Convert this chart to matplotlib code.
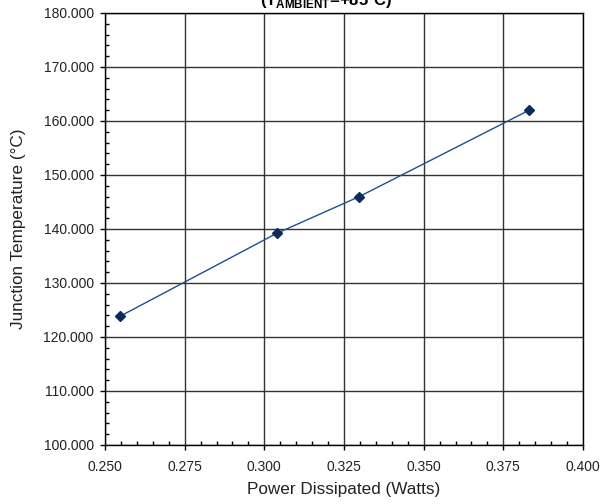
import matplotlib
matplotlib.use("Agg")
import matplotlib.pyplot as plt
from matplotlib.ticker import MultipleLocator, FormatStrFormatter

power_w = [0.2546, 0.3039, 0.3298, 0.3831]
junction_temp_c = [123.8, 139.2, 146.0, 162.0]

plt.rcParams['font.family'] = ['Liberation Sans', 'DejaVu Sans']
plt.rcParams['mathtext.fontset'] = 'custom'
plt.rcParams['mathtext.rm'] = 'Liberation Sans'
plt.rcParams['mathtext.bf'] = 'Liberation Sans:bold'

W, H = 611, 504
fig = plt.figure(figsize=(W / 100, H / 100), dpi=100)
ax = fig.add_axes([105 / W, 1 - 445 / H, (583 - 105) / W, (445 - 13) / H])

ax.plot(power_w, junction_temp_c, color='#1f4e8c', lw=1.0, marker='D',
        markersize=5, markerfacecolor='#0b2d5a', markeredgecolor='#0b2d5a', zorder=3)

ax.set_xlim(0.25, 0.40)
ax.set_ylim(100, 180)
ax.xaxis.set_major_locator(MultipleLocator(0.025))
ax.xaxis.set_minor_locator(MultipleLocator(0.005))
ax.yaxis.set_major_locator(MultipleLocator(10))
ax.yaxis.set_minor_locator(MultipleLocator(2))
ax.xaxis.set_major_formatter(FormatStrFormatter('%.3f'))
ax.yaxis.set_major_formatter(FormatStrFormatter('%.3f'))
ax.tick_params(which='major', direction='out', length=3.6, width=1, labelsize=10,
               color='black', labelcolor='#222222')
ax.tick_params(axis='x', which='major', pad=7)
ax.tick_params(axis='y', which='major', pad=4.5)
ax.tick_params(which='minor', direction='in', length=2.6, width=1, color='black')
ax.grid(True, which='major', color='#333333', lw=1)
ax.set_axisbelow(True)
for s in ax.spines.values():
    s.set_color('black')
    s.set_linewidth(1)

fig.text(344 / W, 1 - 494 / H, 'Power Dissipated (Watts)', ha='center', va='baseline',
         fontsize=12.3, color='#222222')
fig.text(19 / W, 1 - 229 / H, 'Junction Temperature (°C)', ha='center', va='center',
         rotation=90, fontsize=12.3, color='#222222')

fig.text(326 / W, 1 - 5 / H, r'(T$_{\mathbf{AMBIENT}}$=+85°C)', ha='center', va='baseline',
         fontsize=12, fontweight='bold')

fig.savefig('out.png', dpi=100)
